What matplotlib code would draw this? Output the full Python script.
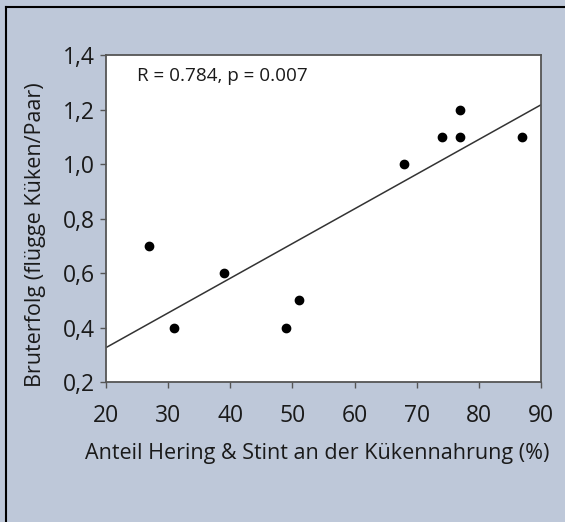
import numpy as np
import matplotlib.pyplot as plt
from matplotlib.lines import Line2D

plt.rcParams['font.family'] = ['Open Sans', 'DejaVu Sans']

# Anteil Hering & Stint (%) und Bruterfolg (Küken/Paar)
anteil = np.array([27, 31, 39, 49, 51, 68, 74, 77, 77, 87])
bruterfolg = np.array([0.7, 0.4, 0.6, 0.4, 0.5, 1.0, 1.1, 1.2, 1.1, 1.1])
xticks = [20, 30, 40, 50, 60, 70, 80, 90]
yticks = [0.2, 0.4, 0.6, 0.8, 1.0, 1.2, 1.4]
stat_text = 'R = 0.784, p = 0.007'

bg = '#bec8d9'
fig = plt.figure(figsize=(5.65, 5.22), dpi=100, facecolor=bg)
ax = fig.add_axes([0.1876, 0.2682, 0.770, 0.6264])
ax.set_facecolor('white')

# Regressionsgerade
m, b = np.polyfit(anteil, bruterfolg, 1)
xl = np.array([20, 90])
ax.plot(xl, m * xl + b, color='#333333', lw=1.1, zorder=2)
ax.plot(anteil, bruterfolg, 'o', color='black', markersize=6, zorder=3)

ax.set_xlim(20, 90)
ax.set_ylim(0.2, 1.4)
ax.set_xticks(xticks)
ax.set_yticks(yticks)
ax.set_yticklabels([f'{v:.1f}'.replace('.', ',') for v in yticks])
ax.tick_params(direction='out', length=4, width=1, color='#555555',
               labelsize=16.5, labelcolor='#1a1a1a')
ax.tick_params(axis='x', pad=12)
ax.tick_params(axis='y', pad=4)
for s in ax.spines.values():
    s.set_color('#555555')
    s.set_linewidth(1.3)

ax.set_xlabel('Anteil Hering & Stint an der Kükennahrung (%)', fontsize=15.5,
              color='#1a1a1a', labelpad=11)
ax.xaxis.label.set_x(0.486)
ax.set_ylabel('Bruterfolg (flügge Küken/Paar)', fontsize=15.5,
              color='#1a1a1a')
ax.yaxis.set_label_coords(-0.137, 0.45)
ax.text(0.071, 0.935, stat_text, transform=ax.transAxes, fontsize=13.6,
        color='#1a1a1a', va='center', ha='left')

# Rahmen oben und links
fig.add_artist(Line2D([6 / 565, 1], [1 - 6.5 / 522, 1 - 6.5 / 522],
                      transform=fig.transFigure, color='black', lw=1.5))
fig.add_artist(Line2D([6 / 565, 6 / 565], [0, 1 - 6.5 / 522],
                      transform=fig.transFigure, color='black', lw=1.5))

fig.savefig('out.png', dpi=100, facecolor=bg)
